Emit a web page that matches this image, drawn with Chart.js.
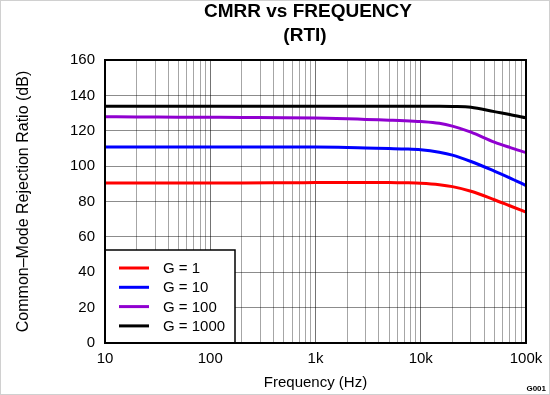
<!DOCTYPE html>
<html>
<head>
<meta charset="utf-8">
<script src="https://cdn.jsdelivr.net/npm/chart.js@4.4.0/dist/chart.umd.min.js"></script>
<style>
  html, body { margin: 0; padding: 0; background: #fff; }
  #wrap { width: 550px; height: 395px; }
</style>
</head>
<body>
<div id="wrap"><canvas id="cmrr" width="550" height="395"></canvas></div>
<script>
// frequency points (Hz)
const freqs = [10, 20, 50, 100, 200, 500, 1000, 2000, 3000, 5000, 7000, 10000, 15000, 20000, 30000, 50000, 70000, 100000];
// CMRR (dB) per gain
const g1    = [90.5, 90.5, 90.5, 90.5, 90.5, 90.6, 90.7, 90.8, 90.8, 90.8, 90.6, 90.3, 89.5, 88.4, 85.8, 81.0, 77.6, 74.0];
const g10   = [110.8, 110.8, 110.8, 110.8, 110.8, 110.8, 110.8, 110.6, 110.3, 110.0, 109.7, 109.2, 107.8, 106.2, 102.6, 97.2, 93.4, 89.0];
const g100  = [127.9, 127.8, 127.7, 127.6, 127.5, 127.4, 127.2, 126.8, 126.4, 126.0, 125.7, 125.2, 124.2, 122.6, 119.2, 113.6, 110.6, 107.7];
const g1000 = [133.8, 133.8, 133.8, 133.8, 133.8, 133.8, 133.8, 133.8, 133.8, 133.8, 133.8, 133.8, 133.8, 133.7, 133.3, 130.8, 129.2, 127.3];

const seriesNames = ["G = 1", "G = 10", "G = 100", "G = 1000"];
const seriesColors = ["#ff0000", "#0000ff", "#9000d0", "#000000"];
const xTickLabels = { 10: "10", 100: "100", 1000: "1k", 10000: "10k", 100000: "100k" };

const FONT = "'Liberation Sans', Arial, sans-serif";

const toPoints = (ys) => ys.map((y, i) => ({ x: freqs[i], y: y }));

//frame, titles, legend box
const decor = {
  id: "decor",
  afterDraw(chart) {
    const ctx = chart.ctx;
    const a = chart.chartArea;
    ctx.save();
    // legend box inside plot
    const lx = a.left, ly = 250, lw = 130, lh = a.bottom - 250;
    ctx.fillStyle = "#fff";
    ctx.fillRect(lx, ly, lw, lh);
    ctx.strokeStyle = "#000";
    ctx.lineWidth = 1.5;
    ctx.strokeRect(lx, ly, lw, lh);
    ctx.font = "15px " + FONT;
    ctx.textBaseline = "middle";
    ctx.textAlign = "left";
    chart.data.datasets.forEach((ds, i) => {
      const y = 268 + i * 19.3;
      ctx.strokeStyle = ds.borderColor;
      ctx.lineWidth = 3;
      ctx.beginPath();
      ctx.moveTo(lx + 14, y);
      ctx.lineTo(lx + 44, y);
      ctx.stroke();
      ctx.fillStyle = "#000";
      ctx.fillText(ds.label, lx + 58, y + 1);
    });
    // plot frame
    ctx.strokeStyle = "#000";
    ctx.lineWidth = 2;
    ctx.strokeRect(a.left, a.top, a.right - a.left, a.bottom - a.top);
    // title
    ctx.fillStyle = "#000";
    ctx.textAlign = "center";
    ctx.font = "bold 19px " + FONT;
    ctx.fillText("CMRR vs FREQUENCY", 308, 12);
    ctx.fillText("(RTI)", 305, 36);
    // figure id
    ctx.font = "bold 8px " + FONT;
    ctx.textAlign = "right";
    ctx.fillText("G001", 546, 389);
    // faint outer border
    ctx.strokeStyle = "#d0d0d0";
    ctx.lineWidth = 1;
    ctx.strokeRect(0.5, 0.5, 549, 394);
    ctx.restore();
  },
};

new Chart(document.getElementById("cmrr"), {
  type: "line",
  plugins: [decor],
  data: {
    datasets: seriesNames.map((name, i) => ({
      label: name,
      data: toPoints([g1, g10, g100, g1000][i]),
      borderColor: seriesColors[i],
      borderWidth: 3,
      pointRadius: 0,
      cubicInterpolationMode: "monotone",
      fill: false,
    })),
  },
  options: {
    responsive: false,
    animation: false,
    layout: { padding: { top: 60, right: 24, left: 0, bottom: 0 } },
    plugins: {
      legend: { display: false },
      title: { display: false },
      tooltip: { enabled: false },
    },
    scales: {
      x: {
        type: "logarithmic",
        min: 10,
        max: 100000,
        afterBuildTicks: (scale) => {
          const t = [];
          for (let d = 10; d < 100000; d *= 10) {
            for (let m = 1; m < 10; m++) t.push({ value: d * m });
          }
          t.push({ value: 100000 });
          scale.ticks = t;
        },
        afterFit: (scale) => { scale.height = 52; },
        ticks: {
          autoSkip: false,
          maxRotation: 0,
          padding: 7,
          color: "#000",
          font: { family: FONT, size: 15 },
          callback: (v) => xTickLabels[v] || "",
        },
        grid: {
          drawTicks: false,
          color: (c) => (xTickLabels[c.tick && c.tick.value] ? "rgba(0,0,0,0.55)" : "rgba(0,0,0,0.35)"),
          lineWidth: 1,
        },
        border: { display: false },
        title: {
          display: true,
          text: "Frequency (Hz)",
          color: "#000",
          font: { family: FONT, size: 15 },
          padding: { top: 0, bottom: 3 },
        },
      },
      y: {
        min: 0,
        max: 160,
        afterFit: (scale) => { scale.width = 105; },
        ticks: {
          stepSize: 20,
          padding: 10,
          color: "#000",
          font: { family: FONT, size: 15 },
        },
        grid: { drawTicks: false, color: "rgba(0,0,0,0.45)", lineWidth: 1 },
        border: { display: false },
        title: {
          display: true,
          text: "Common–Mode Rejection Ratio (dB)",
          color: "#000",
          font: { family: FONT, size: 16 },
          padding: { top: 14, bottom: 0 },
        },
      },
    },
  },
});
</script>
</body>
</html>
